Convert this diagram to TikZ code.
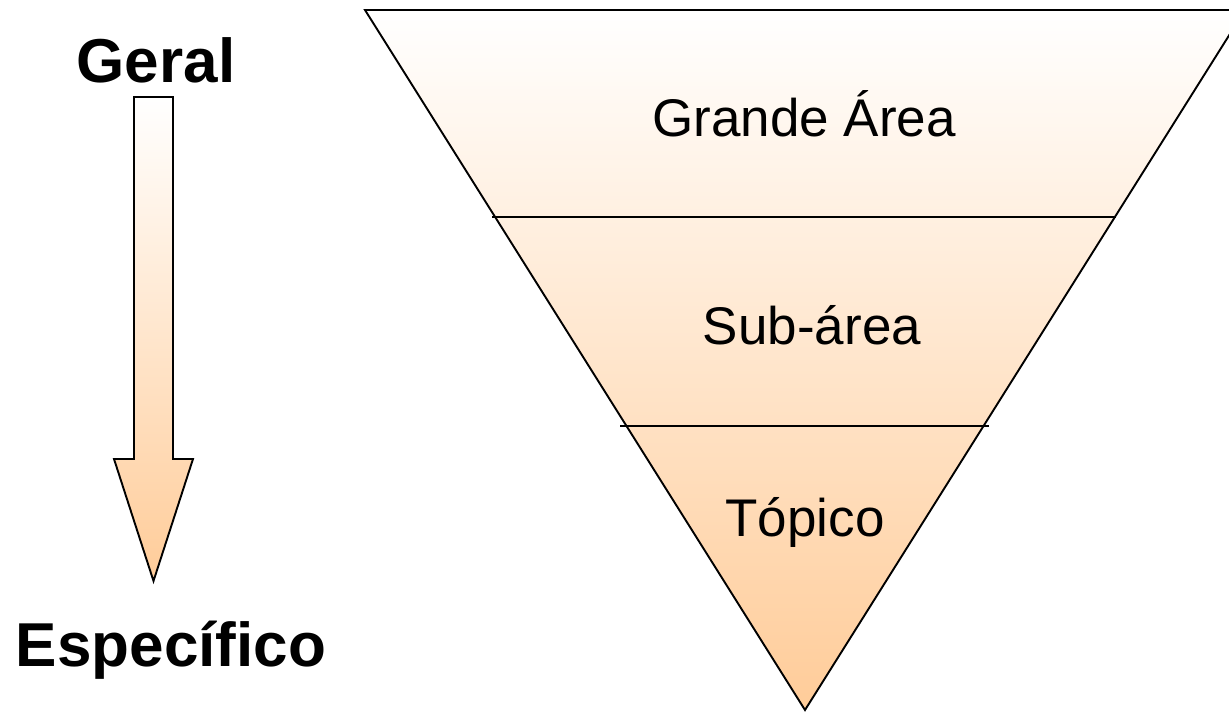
\documentclass[tikz,border=0pt]{standalone}
\usepackage{fontspec}
\setmainfont{Liberation Sans}
\definecolor{peach}{RGB}{255,204,153}
\tikzset{
  outline/.style={draw=black, line width=1.9pt, line join=miter},
  bigword/.style={anchor=base, inner sep=0pt, font=\fontsize{62}{66}\selectfont\bfseries},
  level/.style={anchor=base, inner sep=0pt, font=\fontsize{53}{58}\selectfont},
}
\begin{document}
\begin{tikzpicture}[x=1pt,y=-1pt]
\useasboundingbox (0,0) rectangle (1229,712);
\clip (0,0) rectangle (1229,712);
% funnel
\shade[top color=white, bottom color=peach] (365,10) -- (1245,10) -- (805,710) -- cycle;
\draw[outline] (365,10) -- (1245,10) -- (805,710) -- cycle;
\draw[outline] (492,217) -- (1116,217);
\draw[outline] (620,426) -- (989,426);
% arrow
\shade[top color=white, bottom color=peach] (134,97) -- (173,97) -- (173,459) -- (193,459) -- (153.5,581) -- (114,459) -- (134,459) -- cycle;
\draw[outline] (134,97) -- (173,97) -- (173,459) -- (193,459) -- (153.5,581) -- (114,459) -- (134,459) -- cycle;
% texts
\node[bigword] (geral) at (156,82) {Geral};
\node[bigword] (espec) at (171,666) {Específico};
\node[level] (grande) at (804,136) {Grande Área};
\node[level] (sub) at (812,344) {Sub-área};
\node[level] (topico) at (805,536) {Tópico};
\end{tikzpicture}
\end{document}
